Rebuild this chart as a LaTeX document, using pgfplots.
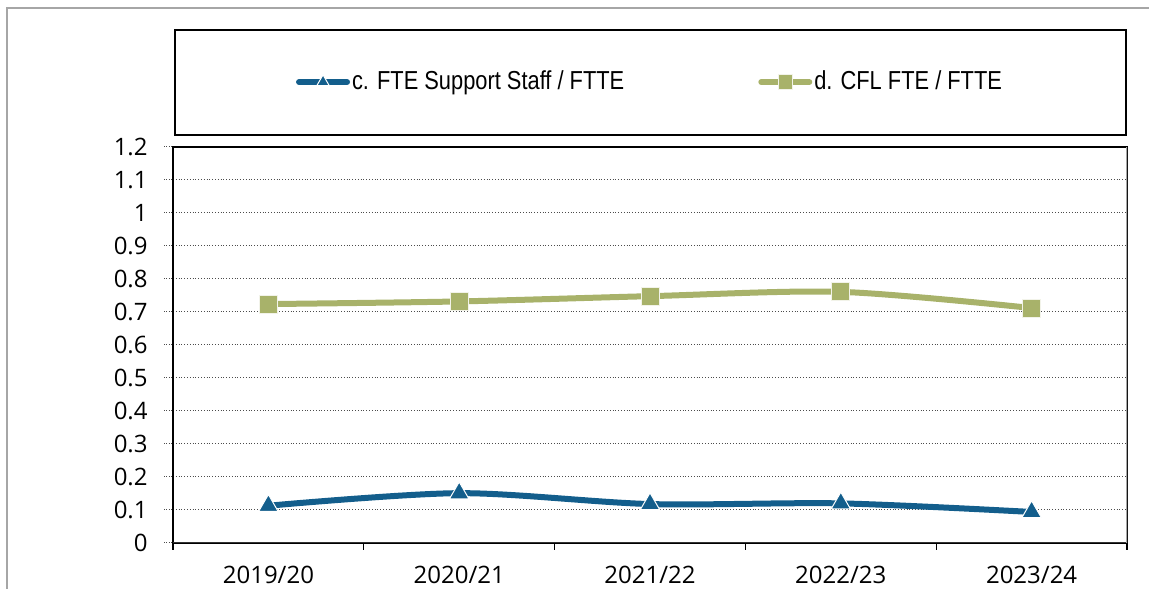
\documentclass[border=0pt]{standalone}
\usepackage{pgfplots}
\pgfplotsset{compat=1.18}
\usepackage{fontspec}
\setmainfont{Open Sans}
\newfontfamily\narrowfont[FakeStretch=0.84]{Liberation Sans}
\definecolor{cblue}{RGB}{19,94,140}
\definecolor{cgreen}{RGB}{168,178,106}
\begin{document}
\begin{tikzpicture}[x=1pt,y=1pt]
\useasboundingbox (0,0) rectangle (574.5,294);
\draw[gray!70, line width=1pt] (3.5,-20) -- (3.5,290) -- (600,290);
\draw[black, line width=0.6pt] (87.5,226.5) rectangle (563,279);
\begin{axis}[
  at={(86.5pt,22.5pt)}, anchor=south west,
  scale only axis, width=477pt, height=198pt,
  xmin=-0.5, xmax=4.5, ymin=0, ymax=1.2,
  xtick={0,1,2,3,4},
  xticklabels={2019/20,2020/21,2021/22,2022/23,2023/24},
  minor xtick={-0.5,0.5,1.5,2.5,3.5,4.5},
  ytick={0,0.1,0.2,0.3,0.4,0.5,0.6,0.7,0.8,0.9,1,1.1,1.2},
  yticklabels={0,0.1,0.2,0.3,0.4,0.5,0.6,0.7,0.8,0.9,1,1.1,1.2},
  xtick pos=bottom, ytick pos=left,
  tick align=outside,
  major tick length=4.5pt, minor tick length=3.5pt,
  major x tick style={draw=none},
  minor x tick style={black, line width=0.6pt},
  major y tick style={densely dotted, black!70, line width=0.5pt},
  ymajorgrids,
  major grid style={densely dotted, black!70, line width=0.5pt},
  axis line style={black, line width=0.6pt},
  tick label style={font=\fontsize{12}{14}\selectfont},
  xticklabel style={anchor=base, inner sep=0pt, yshift=-15.8pt},
  yticklabel style={anchor=east, inner sep=0pt, xshift=-8pt},
  legend columns=2,
  legend style={at={(0.5,1.164)}, anchor=center, draw=none, fill=none,
    font=\narrowfont\fontsize{13}{15}\selectfont,
    nodes={inner xsep=1pt},
    /tikz/every even column/.append style={column sep=66pt},
    inner sep=0pt},
  legend image code/.code={%
    \draw[#1, mark size=3.6pt, mark repeat=2, mark phase=2] plot coordinates {(0pt,0pt) (12pt,0pt) (24pt,0pt)};},
]
\addplot[cblue, line width=3pt, line cap=round, smooth, tension=0.5,
  mark=triangle*, mark size=5.6pt,
  mark options={fill=cblue, draw=white, line width=0.5pt, solid}]
  coordinates {(0,0.113) (1,0.151) (2,0.118) (3,0.120) (4,0.094)};
\addlegendentry{c. FTE Support Staff / FTTE}
\addplot[cgreen, line width=3pt, line cap=round, smooth, tension=0.5,
  mark=square*, mark size=4.5pt,
  mark options={fill=cgreen, draw=white!85!cgreen, line width=0.5pt, solid}]
  coordinates {(0,0.724) (1,0.732) (2,0.748) (3,0.761) (4,0.712)};
\addlegendentry{d. CFL FTE / FTTE}
\draw[black!80, line width=1.2pt] (rel axis cs:0,0) -- (rel axis cs:1,0);
\draw[gray!70, line width=1pt] (rel axis cs:1,0) -- (rel axis cs:1,1);
\end{axis}
\end{tikzpicture}
\end{document}
